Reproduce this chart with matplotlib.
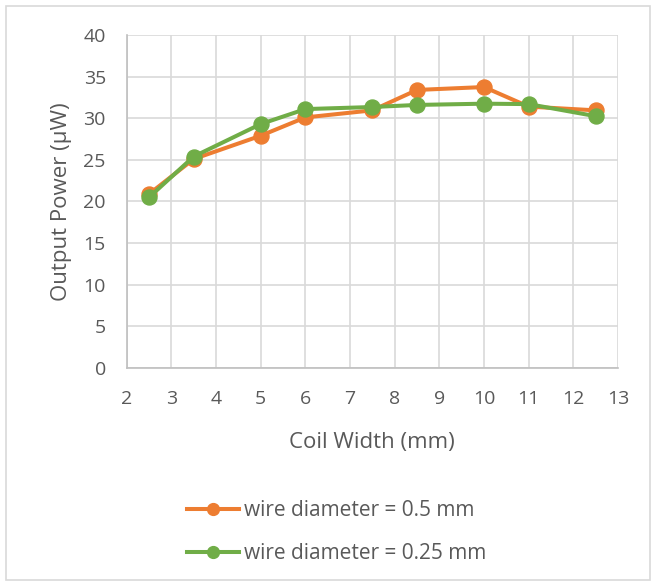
import matplotlib
matplotlib.use("Agg")
import matplotlib.pyplot as plt
from matplotlib.patches import Rectangle
from matplotlib.lines import Line2D

coil_width = [2.5, 3.5, 5, 6, 7.5, 8.5, 10, 11, 12.5]
power_05 = [20.9, 25.1, 27.9, 30.1, 30.95, 33.4, 33.75, 31.4, 30.95]
power_025 = [20.5, 25.4, 29.3, 31.1, 31.35, 31.6, 31.75, 31.7, 30.25]
labels = ["wire diameter = 0.5 mm", "wire diameter = 0.25 mm"]
colors = ["#ED7D31", "#70AD47"]
xticks = list(range(2, 14))
yticks = list(range(0, 45, 5))

plt.rcParams['font.family'] = ['Open Sans', 'DejaVu Sans']
txt = "#595959"

fig = plt.figure(figsize=(6.56, 5.86), dpi=100)
ax = fig.add_axes([126.7/656, 1-368/586, (618-126.7)/656, (368-35)/586])

for ys, c in zip([power_05, power_025], colors):
    ax.plot(coil_width, ys, color=c, lw=2.9, marker='o', ms=10.8,
            markeredgecolor=c, markerfacecolor=c, solid_capstyle='round', zorder=3)

ax.set_xlim(2, 13)
ax.set_ylim(0, 40)
ax.set_xticks(xticks)
ax.set_yticks(yticks)
ax.grid(True, color="#D9D9D9", lw=1.2)
ax.set_axisbelow(True)
for s in ['top', 'right']:
    ax.spines[s].set_visible(False)
for s in ['left', 'bottom']:
    ax.spines[s].set_color("#BFBFBF")
    ax.spines[s].set_linewidth(1.2)
ax.tick_params(axis='both', length=0, labelsize=14, labelcolor=txt)
ax.tick_params(axis='x', pad=16)
ax.tick_params(axis='y', pad=15)
ax.set_xlabel("Coil Width (mm)", fontsize=16, color=txt, labelpad=17)
ax.set_ylabel("Output Power (μW)", fontsize=16, color=txt, labelpad=8)

handles = [Line2D([0], [0], color=c, lw=2.9, marker='o', ms=8.5,
                  markerfacecolor=c, markeredgecolor=c) for c in colors]
leg = fig.legend(handles, labels, loc='center', bbox_to_anchor=(0.513, 1-532/586),
                 frameon=False, fontsize=15, labelspacing=1.05, handlelength=2.5,
                 handletextpad=0.25)
for t in leg.get_texts():
    t.set_color(txt)

fig.patches.append(Rectangle((6/656, 6/586), 1-12/656, 1-12/586, transform=fig.transFigure,
                             fill=False, edgecolor="#D9D9D9", lw=1.2))

fig.savefig("out.png", dpi=100, facecolor="white")
